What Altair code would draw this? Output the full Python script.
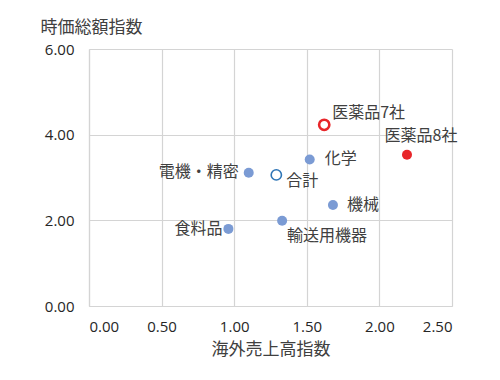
import altair as alt
import pandas as pd

names = ["医薬品7社", "医薬品8社", "化学", "電機・精密", "合計", "機械", "輸送用機器", "食料品"]
x_vals = [1.62, 2.19, 1.52, 1.10, 1.29, 1.68, 1.33, 0.96]
y_vals = [4.23, 3.53, 3.42, 3.11, 3.06, 2.36, 1.99, 1.80]
groups = ["red_open", "red_filled", "blue_filled", "blue_filled", "blue_open", "blue_filled", "blue_filled", "blue_filled"]

df = pd.DataFrame({"name": names, "x": x_vals, "y": y_vals, "group": groups})

FONT = "Noto Sans CJK JP"
NUMFONT = "Open Sans"
TXT = "#404040"

xs = alt.Scale(domain=[0, 2.5], nice=False)
ys = alt.Scale(domain=[0, 6], nice=False)

x_enc = alt.X("x:Q", scale=xs, axis=alt.Axis(
    values=[0, 0.5, 1.0, 1.5, 2.0, 2.5], format=".2f", title="海外売上高指数",
    labelPadding=20, labelBaseline="middle", titleY=35, titleBaseline="top",
    titleFontSize=17))
y_enc = alt.Y("y:Q", scale=ys, axis=alt.Axis(
    values=[0, 2, 4, 6], format=".2f", title="時価総額指数",
    labelPadding=15, titleAngle=0, titleAlign="left", titleX=-49, titleY=-22,
    titleBaseline="middle"))

base = alt.Chart(df).encode(x=x_enc, y=y_enc)

group_colors = {"red_open": "#e8262a", "red_filled": "#e8262a",
                "blue_filled": "#7b9bd4", "blue_open": "#2e75b6"}

layers = []
layers.append(base.transform_filter(alt.datum.group == "blue_filled").mark_circle(
    size=100, opacity=1, color=group_colors["blue_filled"]))
layers.append(base.transform_filter(alt.datum.group == "red_filled").mark_circle(
    size=100, opacity=1, color=group_colors["red_filled"]))
layers.append(base.transform_filter(alt.datum.group == "blue_open").mark_point(
    shape="circle", size=105, filled=False, strokeWidth=1.6, color=group_colors["blue_open"], opacity=1))
layers.append(base.transform_filter(alt.datum.group == "red_open").mark_point(
    shape="circle", size=105, filled=False, strokeWidth=2.6, color=group_colors["red_open"], opacity=1))

label_style = {
    "医薬品7社": dict(align="left", dx=8, dy=-12),
    "医薬品8社": dict(align="center", dx=14, dy=-19),
    "化学": dict(align="left", dx=15, dy=-1),
    "電機・精密": dict(align="right", dx=-10, dy=-1),
    "合計": dict(align="left", dx=10, dy=6),
    "機械": dict(align="left", dx=14, dy=0),
    "輸送用機器": dict(align="left", dx=5, dy=15),
    "食料品": dict(align="right", dx=-6, dy=0),
}
for n in names:
    st = label_style[n]
    layers.append(base.transform_filter(alt.datum.name == n).mark_text(
        font=FONT, fontSize=16, color=TXT, baseline="middle", **st).encode(text="name:N"))

chart = alt.layer(*layers).properties(
    width=363, height=257,
    autosize=alt.AutoSizeParams(type="none"),
    padding={"left": 81, "top": 41, "right": 40, "bottom": 60},
    background="white",
).configure_view(stroke=None).configure_axis(
    grid=True, gridColor="#d4d4d4", gridWidth=1.2,
    domainColor="#d4d4d4", domainWidth=1.2, ticks=False,
    labelFont=NUMFONT, labelFontSize=15, labelColor="#262626",
    titleFont=FONT, titleFontSize=17, titleColor=TXT, titleFontWeight="normal",
)

chart.save("out.html", embed_options={"renderer": "svg", "actions": False})
